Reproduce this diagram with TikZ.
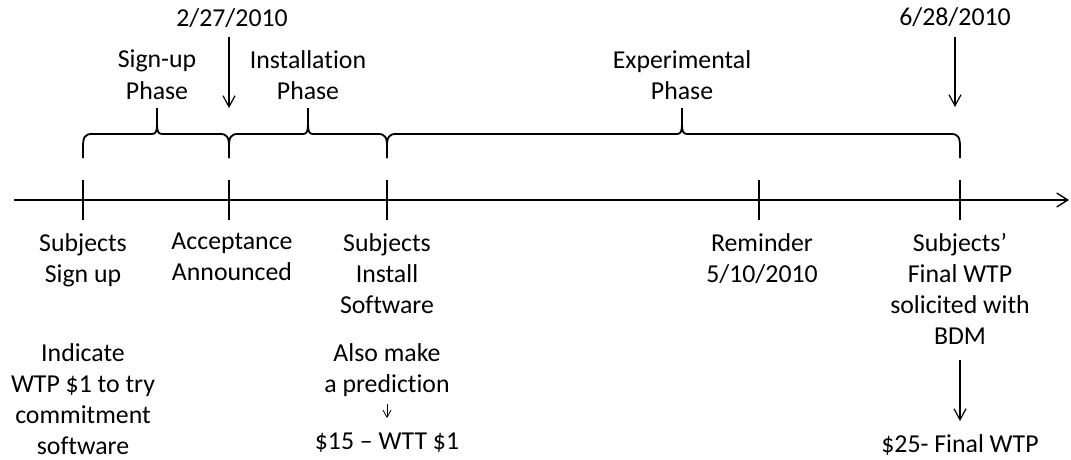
\documentclass[tikz,border=0pt]{standalone}
\usepackage{fontspec}
\setmainfont[Ligatures=NoCommon]{Carlito}
\usetikzlibrary{arrows.meta}
\tikzset{
  lbl/.style={inner sep=0pt, align=center, anchor=north, font=\fontsize{25.8}{31.2}\selectfont},
  axisline/.style={line width=1.8pt},
  tick/.style={line width=1.8pt},
  brc/.style={line width=1.8pt},
  arr/.style={line width=1.2pt, -{Straight Barb[length=11pt,width=12pt,line width=1.2pt]}},
  smallarr/.style={line width=0.8pt, -{Straight Barb[length=7pt,width=8pt,line width=0.8pt]}}
}
\newcommand\phasebrace[3]{% left, tip, right
  \draw[brc] (#1,158) -- (#1,147) .. controls (#1,137) and (#1+2,134) .. (#1+9,134)
    -- (#2-5,134) .. controls (#2-1,134) and (#2,131) .. (#2,124) -- (#2,108)
    -- (#2,124) .. controls (#2,131) and (#2+1,134) .. (#2+5,134)
    -- (#3-9,134) .. controls (#3-2,134) and (#3,137) .. (#3,147) -- (#3,158);}
\begin{document}
\begin{tikzpicture}[x=1pt,y=-1pt]
\useasboundingbox (0,0) rectangle (1071,460);
% axis
\coordinate (a0) at (14,200);
\coordinate (a1) at (1069,200);
\draw[axisline, -{Straight Barb[length=11pt,width=14pt,line width=1.4pt]}] (a0) -- (a1);
% ticks
\foreach \n/\x in {t1/83,t2/229,t3/387,t4/759,t5/960}{
  \coordinate (\n) at (\x,200);
  \draw[tick] (\x,180) -- (\x,220);
}
% braces
\phasebrace{83}{157}{229}
\phasebrace{229}{308}{387}
\phasebrace{387}{682}{960}
% top labels
\node[lbl] (signup) at (157,50) {Sign-up\\Phase};
\node[lbl] (install) at (308,50) {Installation\\Phase};
\node[lbl] (exper) at (682,50) {Experimental\\Phase};
\node[lbl] (d1) at (232,8) {2/27/2010};
\node[lbl] (d2) at (955,7) {6/28/2010};
\coordinate (d1e) at (229,108);
\coordinate (d2e) at (955,107);
\draw[arr] (229,37) -- (d1e);
\draw[arr] (955,37) -- (d2e);
% bottom labels
\node[lbl] (b1) at (83,233) {Subjects\\Sign up};
\node[lbl] (b2) at (232,233) {Acceptance\\Announced};
\node[lbl] (b3) at (387,233) {Subjects\\Install\\Software};
\node[lbl] (b4) at (762,233) {Reminder\\5/10/2010};
\node[lbl] (b5) at (960,233) {Subjects’\\Final WTP\\solicited with\\BDM};
\node[lbl] (c1) at (83,343) {Indicate\\WTP \$1 to try\\commitment\\software};
\node[lbl] (c3) at (387,343) {Also make\\a prediction};
\node[lbl] (c3b) at (387,433) {\$15 – WTT \$1};
\node[lbl] (c5) at (960,434) {\$25- Final WTP};
\draw[smallarr] (387,404) -- (387,418);
\draw[arr] (960,360) -- (960,421);
\end{tikzpicture}
\end{document}
